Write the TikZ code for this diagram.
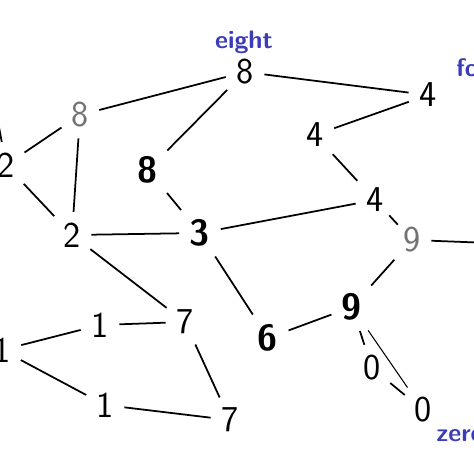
\documentclass[tikz,border=0pt]{standalone}
\usepackage{tikz}
\usetikzlibrary{positioning}
\definecolor{tagblue}{RGB}{60,60,185}
\begin{document}
\begin{tikzpicture}[x=0.02cm, y=-0.02cm,
  digit/.style={font=\sffamily\huge, inner sep=3pt},
  faint/.style={digit, text=black!55},
  heavy/.style={digit, font=\sffamily\bfseries\huge},
  tag/.style={font=\sffamily\bfseries\Large, text=tagblue},
  link/.style={line width=1pt, shorten <=3pt, shorten >=3pt}]
  \clip (0,0) rectangle (474,474);
  \fill[white] (0,0) rectangle (474,474);
  % digits
  \node[digit] (eightTop) at (245,72) {8};
  \node[digit] (fourTop) at (428,95) {4};
  \node[faint] (eightSmall) at (80,115) {8};
  \node[digit] (twoLeft) at (6,165) {2};
  \node[heavy] (eightBold) at (148,170) {8};
  \node[digit] (fourMid) at (315,135) {4};
  \node[digit] (fourRight) at (375,200) {4};
  \node[faint] (nineLight) at (412,240) {9};
  \node[digit] (twoMid) at (72,235) {2};
  \node[heavy] (three) at (200,233) {3};
  \node[digit] (sevenUp) at (185,322) {7};
  \node[digit] (oneUp) at (100,325) {1};
  \node[digit] (oneLeft) at (2,350) {1};
  \node[digit] (oneLow) at (105,405) {1};
  \node[digit] (sevenLow) at (230,420) {7};
  \node[heavy] (six) at (268,338) {6};
  \node[heavy] (nineBold) at (352,307) {9};
  \node[digit] (zeroMid) at (372,368) {0};
  \node[digit] (zeroLow) at (423,410) {0};
  \coordinate (offNW) at (-6,100);
  \coordinate (offE) at (490,243);
  % labels
  \node[tag] (eightTag) at (244,42) {eight};
  \node[tag, anchor=west, inner sep=0pt] (fourTag) at (456,68) {four};
  \node[tag, anchor=west, inner sep=0pt] (zeroTag) at (436,436) {zero};
  % links
  \draw[link] (eightTop) -- (eightSmall);
  \draw[link] (eightTop) -- (fourTop);
  \draw[link] (eightTop) -- (eightBold);
  \draw[link] (eightSmall) -- (twoLeft);
  \draw[link] (eightSmall) -- (twoMid);
  \draw[link] (twoLeft) -- (twoMid);
  \draw[link, shorten >=0pt] (twoLeft) -- (offNW);
  \draw[link] (eightBold) -- (three);
  \draw[link] (twoMid) -- (three);
  \draw[link] (three) -- (fourRight);
  \draw[link] (fourTop) -- (fourMid);
  \draw[link] (fourMid) -- (fourRight);
  \draw[line width=1pt] (fourRight) -- (nineLight);
  \draw[link, shorten >=0pt] (nineLight) -- (offE);
  \draw[link] (nineLight) -- (nineBold);
  \draw[link] (three) -- (six);
  \draw[link] (six) -- (nineBold);
  \draw[link] (nineBold) -- (zeroMid);
  \draw[link] (zeroMid) -- (zeroLow);
  \draw[link, line width=0.6pt] (nineBold) -- (zeroLow);
  \draw[link] (twoMid) -- (sevenUp);
  \draw[link] (oneUp) -- (sevenUp);
  \draw[link] (oneUp) -- (oneLeft);
  \draw[link] (oneLeft) -- (oneLow);
  \draw[link] (oneLow) -- (sevenLow);
  \draw[link] (sevenUp) -- (sevenLow);
\end{tikzpicture}
\end{document}
